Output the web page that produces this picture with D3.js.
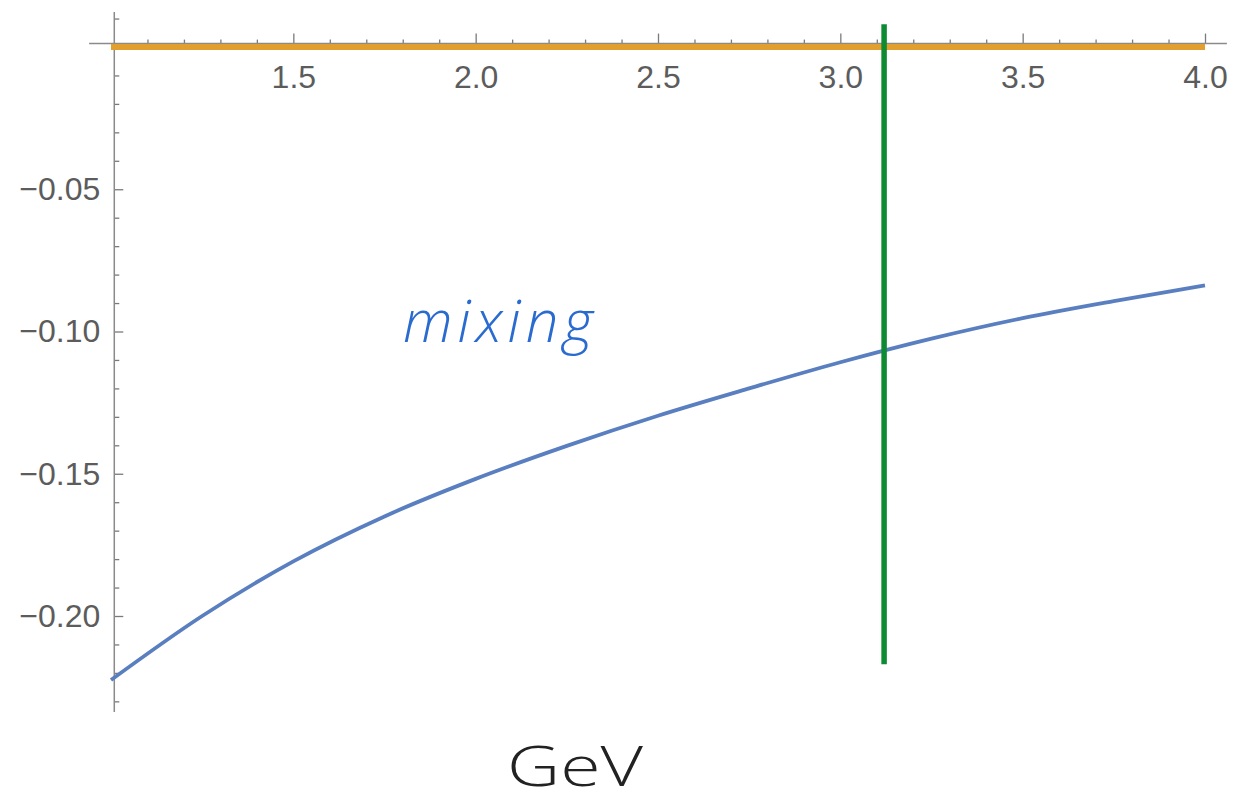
<!DOCTYPE html>
<html>
<head>
<meta charset="utf-8">
<script src="https://cdn.jsdelivr.net/npm/d3@7"></script>
<style>
  body { margin: 0; background: #fff; }
  .tick text { font-family: "Liberation Sans", Arial, sans-serif; fill: #5c5c5c; }
</style>
</head>
<body>
<div id="chart"></div>
<script>
// values
var energy   = [1.0, 1.25, 1.5, 1.75, 2.0, 2.25, 2.5, 2.75, 3.0, 3.25, 3.5, 3.75, 4.0];
var mixing   = [-0.2225, -0.2000, -0.1808, -0.1650, -0.1518, -0.1402, -0.1296, -0.1200, -0.1108, -0.1025, -0.0953, -0.0893, -0.0838];
var baseline = [0, 0, 0, 0, 0, 0, 0, 0, 0, 0, 0, 0, 0];

var xMajorTicks = [1.5, 2.0, 2.5, 3.0, 3.5, 4.0];
var yMajorTicks = [-0.05, -0.10, -0.15, -0.20];

var cutEnergy = 3.12;          // green vertical marker
var cutRange  = [0.008, -0.217];

var width = 1233, height = 803;

var svg = d3.select("#chart").append("svg")
    .attr("width", width)
    .attr("height", height);

var x = d3.scaleLinear().domain([1, 4]).range([111, 1205]);
var y = d3.scaleLinear().domain([0, -0.2]).range([47, 616]);

var xAxisAt = 0.0012, yAxisAt = 1.009;   // where mathematica put the axes

// minor ticks
var xMinor = d3.range(11, 41).map(function(d) { return d / 10; })
    .filter(function(d) { return xMajorTicks.indexOf(d) < 0; });
var yMinor = d3.range(-23, 2).map(function(d) { return d / 100; })
    .filter(function(d) { return d !== 0 && yMajorTicks.indexOf(d) < 0; });

var gx = svg.append("g").attr("transform", "translate(0," + y(xAxisAt) + ")");
var gy = svg.append("g").attr("transform", "translate(" + x(yAxisAt) + ",0)");

gx.append("g").call(d3.axisBottom(x).tickValues(xMinor).tickSizeInner(-4).tickSizeOuter(0).tickFormat(""));
gx.append("g").call(d3.axisBottom(x).tickValues(xMajorTicks).tickSizeInner(-10).tickSizeOuter(0)
    .tickPadding(22).tickFormat(d3.format(".1f")));

gy.append("g").call(d3.axisLeft(y).tickValues(yMinor).tickSizeInner(-5).tickSizeOuter(0).tickFormat(""));
gy.append("g").call(d3.axisLeft(y).tickValues(yMajorTicks).tickSizeInner(-9).tickSizeOuter(0)
    .tickPadding(14).tickFormat(d3.format(".2f")));

svg.selectAll(".domain").remove();
svg.selectAll(".tick line").attr("stroke", "#7a7a7a").attr("stroke-width", 1.3);
svg.selectAll(".tick text").attr("font-size", 32);

// axis lines
svg.append("line")
    .attr("x1", x(0.94)).attr("x2", x(4.06))
    .attr("y1", y(xAxisAt)).attr("y2", y(xAxisAt))
    .attr("stroke", "#8a8a8a").attr("stroke-width", 1.5);
svg.append("line")
    .attr("x1", x(yAxisAt)).attr("x2", x(yAxisAt))
    .attr("y1", y(0.0123)).attr("y2", y(-0.2337))
    .attr("stroke", "#8a8a8a").attr("stroke-width", 1.5);

var line = d3.line()
    .x(function(d) { return x(d[0]); })
    .y(function(d) { return y(d[1]); })
    .curve(d3.curveMonotoneX);

svg.append("path")
    .datum(d3.zip(energy, baseline))
    .attr("d", line)
    .attr("fill", "none")
    .attr("stroke", "#e09f2e")
    .attr("stroke-width", 6);

svg.append("path")
    .datum(d3.zip(energy, mixing))
    .attr("d", line)
    .attr("fill", "none")
    .attr("stroke", "#5a7fc0")
    .attr("stroke-width", 3.8);

svg.append("line")
    .attr("x1", x(cutEnergy)).attr("x2", x(cutEnergy))
    .attr("y1", y(cutRange[0])).attr("y2", y(cutRange[1]))
    .attr("stroke", "#0e8a32")
    .attr("stroke-width", 5.5);

svg.append("text")
    .text("mixing")
    .attr("x", 403).attr("y", 342)
    .attr("font-family", "'Open Sans', sans-serif")
    .attr("font-style", "italic")
    .attr("font-weight", 300)
    .attr("font-size", 58)
    .attr("textLength", 190)
    .attr("lengthAdjust", "spacing")
    .attr("fill", "#2a6bd0");

svg.append("text")
    .text("GeV")
    .attr("x", 507).attr("y", 786)
    .attr("font-family", "'Open Sans', sans-serif")
    .attr("font-weight", 300)
    .attr("font-size", 56)
    .attr("textLength", 136)
    .attr("lengthAdjust", "spacingAndGlyphs")
    .attr("fill", "#222");
</script>
</body>
</html>
